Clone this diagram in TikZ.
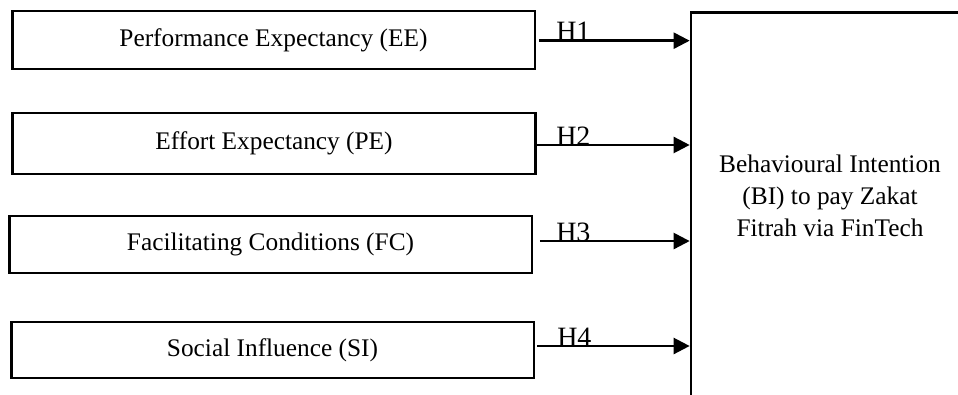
\documentclass[tikz,border=0pt]{standalone}
\usepackage{fontspec}
\setmainfont{Liberation Serif}
\usetikzlibrary{arrows.meta}
\begin{document}
\begin{tikzpicture}[x=0.75pt,y=-0.75pt,
  box/.style={draw,line width=2pt,minimum width=392pt,inner sep=0pt,font=\fontsize{19}{23}\selectfont},
  arr/.style={line width=1.8pt,-{Triangle[length=12pt,width=12pt]}},
  hlab/.style={anchor=base west,inner sep=0pt,font=\fontsize{21}{24}\selectfont}]
\useasboundingbox (0,0) rectangle (958,394);
\clip (0,0) rectangle (958,394);
\node[box,minimum height=43.5pt] (ee) at (273.5,40) {Performance Expectancy (EE)};
\node[box,minimum height=45.75pt] (pe) at (274,143.5) {Effort Expectancy (PE)};
\node[box,minimum height=42.75pt] (fc) at (270.5,244.5) {Facilitating Conditions (FC)};
\node[box,minimum height=42pt] (si) at (272.5,350) {Social Influence (SI)};
\node[draw,line width=2pt,minimum width=224.25pt,minimum height=320.5pt,inner sep=0pt] (bi) at (840.5,226.35) {};
\node[align=center,inner sep=0pt,font=\fontsize{19}{24}\selectfont] (bitext) at (830,196) {Behavioural Intention\\(BI) to pay Zakat\\Fitrah via FinTech};
\coordinate (s1) at ([xshift=2.25pt,yshift=-0.5pt]ee.east);
\coordinate (s2) at ([yshift=-1.1pt]pe.east);
\coordinate (s3) at ([xshift=5pt,yshift=2.6pt]fc.east);
\coordinate (s4) at ([xshift=1.5pt,yshift=3pt]si.east);
\draw[arr] (s1) -- (s1 -| bi.west);
\draw[arr] (s2) -- (s2 -| bi.west);
\draw[arr] (s3) -- (s3 -| bi.west);
\draw[arr] (s4) -- (s4 -| bi.west);
\node[hlab] (h1) at (556,40.7) {H1};
\node[hlab] (h2) at (556,145) {H2};
\node[hlab] (h3) at (556,241) {H3};
\node[hlab] (h4) at (557,346) {H4};
\end{tikzpicture}
\end{document}
